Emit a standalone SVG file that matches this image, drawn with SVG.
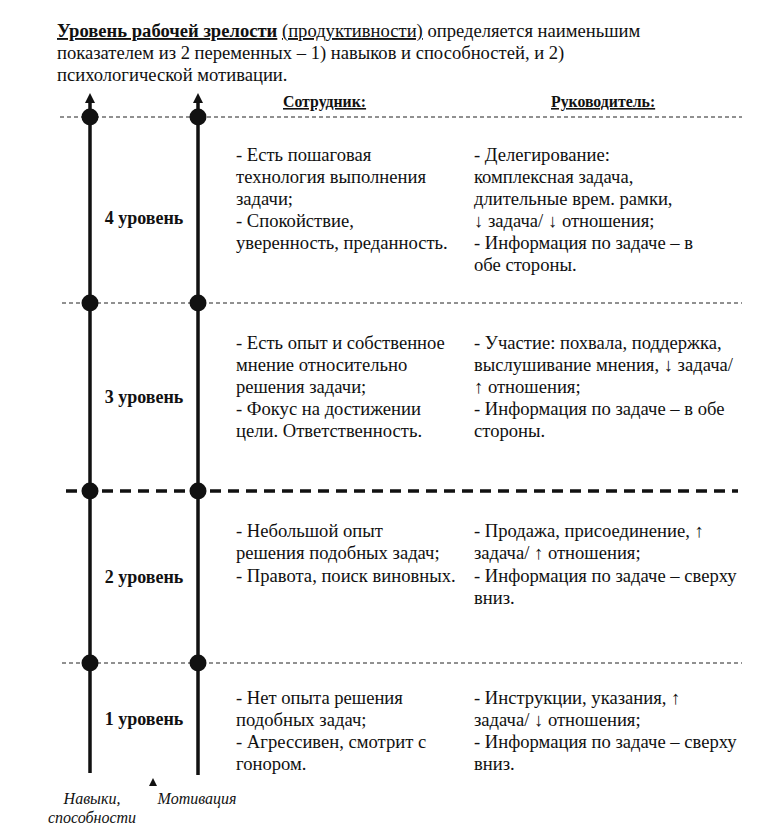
<svg xmlns="http://www.w3.org/2000/svg" width="757" height="829" viewBox="0 0 757 829" font-family="'Liberation Serif', 'Times New Roman', serif">
<defs>
<style>
.t{font-family:'Liberation Serif','Times New Roman',serif;font-size:18.6px;fill:#111}
.b{font-weight:bold}
.h{font-family:'Liberation Serif','Times New Roman',serif;font-size:15.8px;font-weight:bold;text-decoration:underline;fill:#111}
.lv{font-family:'Liberation Serif','Times New Roman',serif;font-size:18px;font-weight:bold;fill:#111;text-anchor:middle}
.it{font-family:'Liberation Serif','Times New Roman',serif;font-size:16px;font-style:italic;fill:#111;text-anchor:middle}
.thin{stroke:#222;stroke-width:1;stroke-dasharray:4 3;fill:none}
.thick{stroke:#111;stroke-width:3.5;stroke-dasharray:11 7;fill:none}
.axis{stroke:#111;stroke-width:3.5;fill:none}
.dot{fill:#111}
</style>
</defs>
<rect width="757" height="829" fill="#fff"/>

<g id="title">
<text class="t" x="57" y="37"><tspan class="b" text-decoration="underline">Уровень рабочей зрелости</tspan> <tspan text-decoration="underline">(продуктивности)</tspan> определяется наименьшим</text>
<text class="t" x="57" y="59">показателем из 2 переменных – 1) навыков и способностей, и 2)</text>
<text class="t" x="57" y="81">психологической мотивации.</text>
</g>

<g id="headers">
<text class="h" x="283" y="107">Сотрудник:</text>
<text class="h" x="551" y="107">Руководитель:</text>
</g>

<g id="connectors">
<line class="thin" x1="60" y1="117" x2="742" y2="117"/>
<line class="thin" x1="62" y1="303" x2="742" y2="303"/>
<line class="thick" x1="66" y1="491" x2="738" y2="491"/>
<line class="thin" x1="62" y1="663" x2="742" y2="663"/>
<line class="axis" x1="90" y1="100" x2="90" y2="773"/>
<line class="axis" x1="198" y1="100" x2="198" y2="775"/>
<path d="M90,93 L85,103 L95,103 Z" class="dot"/>
<path d="M198,93 L193,103 L203,103 Z" class="dot"/>
<path d="M153,778 L149,786 L157,786 Z" class="dot"/>
<circle class="dot" cx="90" cy="117" r="8.5"/>
<circle class="dot" cx="198" cy="117" r="8.5"/>
<circle class="dot" cx="90" cy="303" r="8.5"/>
<circle class="dot" cx="198" cy="303" r="8.5"/>
<circle class="dot" cx="90" cy="491" r="8.5"/>
<circle class="dot" cx="198" cy="491" r="8.5"/>
<circle class="dot" cx="90" cy="663" r="8.5"/>
<circle class="dot" cx="198" cy="663" r="8.5"/>
</g>

<g id="level4">
<text class="lv" x="144" y="224">4 уровень</text>
<text class="t" x="236" y="161">- Есть пошаговая</text>
<text class="t" x="236" y="183">технология выполнения</text>
<text class="t" x="236" y="205">задачи;</text>
<text class="t" x="236" y="227">- Спокойствие,</text>
<text class="t" x="236" y="249">уверенность, преданность.</text>
<text class="t" x="474" y="161">- Делегирование:</text>
<text class="t" x="474" y="183">комплексная задача,</text>
<text class="t" x="474" y="205">длительные врем. рамки,</text>
<text class="t" x="474" y="227">↓ задача/ ↓ отношения;</text>
<text class="t" x="474" y="249">- Информация по задаче – в</text>
<text class="t" x="474" y="271">обе стороны.</text>
</g>

<g id="level3">
<text class="lv" x="144" y="403">3 уровень</text>
<text class="t" x="236" y="349">- Есть опыт и собственное</text>
<text class="t" x="236" y="371">мнение относительно</text>
<text class="t" x="236" y="393">решения задачи;</text>
<text class="t" x="236" y="415">- Фокус на достижении</text>
<text class="t" x="236" y="437">цели. Ответственность.</text>
<text class="t" x="474" y="349">- Участие: похвала, поддержка,</text>
<text class="t" x="474" y="371">выслушивание мнения, ↓ задача/</text>
<text class="t" x="474" y="393">↑ отношения;</text>
<text class="t" x="474" y="415">- Информация по задаче – в обе</text>
<text class="t" x="474" y="437">стороны.</text>
</g>

<g id="level2">
<text class="lv" x="144" y="583">2 уровень</text>
<text class="t" x="236" y="537">- Небольшой опыт</text>
<text class="t" x="236" y="559">решения подобных задач;</text>
<text class="t" x="236" y="582">- Правота, поиск виновных.</text>
<text class="t" x="474" y="537">- Продажа, присоединение, ↑</text>
<text class="t" x="474" y="559">задача/ ↑ отношения;</text>
<text class="t" x="474" y="582">- Информация по задаче – сверху</text>
<text class="t" x="474" y="604">вниз.</text>
</g>

<g id="level1">
<text class="lv" x="144" y="725">1 уровень</text>
<text class="t" x="236" y="704">- Нет опыта решения</text>
<text class="t" x="236" y="726">подобных задач;</text>
<text class="t" x="236" y="748">- Агрессивен, смотрит с</text>
<text class="t" x="236" y="770">гонором.</text>
<text class="t" x="474" y="704">- Инструкции, указания, ↑</text>
<text class="t" x="474" y="726">задача/ ↓ отношения;</text>
<text class="t" x="474" y="748">- Информация по задаче – сверху</text>
<text class="t" x="474" y="770">вниз.</text>
</g>

<g id="axis-labels">
<text class="it" x="92" y="804">Навыки,</text>
<text class="it" x="92" y="823">способности</text>
<text class="it" x="197" y="804">Мотивация</text>
</g>
</svg>
